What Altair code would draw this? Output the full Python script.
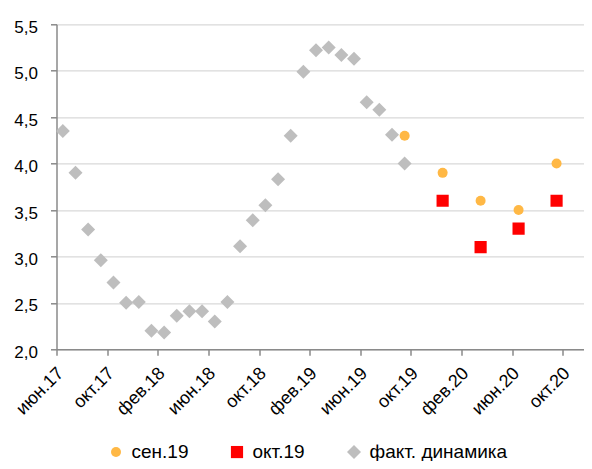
import json
import altair as alt
import pandas as pd

# ---- data ----
fact_start = "2017-06"
fact_values = [4.35, 3.90, 3.29, 2.96, 2.72, 2.50, 2.51, 2.20, 2.18, 2.36, 2.41, 2.41,
               2.30, 2.51, 3.11, 3.39, 3.55, 3.83, 4.30, 4.99, 5.22, 5.25, 5.17, 5.13,
               4.66, 4.58, 4.31, 4.00]

sep19_months = ["2019-09", "2019-12", "2020-03", "2020-06", "2020-09", "2020-12"]
sep19_values = [4.3, 3.9, 3.6, 3.5, 4.0, 4.0]

oct19_months = ["2019-12", "2020-03", "2020-06", "2020-09", "2020-12"]
oct19_values = [3.6, 3.1, 3.3, 3.6, 3.8]

series_names = ["сен.19", "окт.19", "факт. динамика"]
series_colors = ["#FFB845", "#FF0000", "#BEBEBE"]
series_shapes = ["circle", "square", "diamond"]
series_sizes = [100, 196, 150]

tick_labels = ["июн.17", "окт.17", "фев.18", "июн.18", "окт.18", "фев.19",
               "июн.19", "окт.19", "фев.20", "июн.20", "окт.20"]

# ---- build table ----
start = pd.Period(fact_start, freq="M")
fact_months = [str(p) for p in pd.period_range(start, periods=len(fact_values), freq="M")]


def month_pos(m):
    p = pd.Period(m, freq="M")
    return (p.year - start.year) * 12 + (p.month - start.month) + 0.5


rows = []
for m, v in zip(fact_months, fact_values):
    rows.append({"pos": month_pos(m), "value": v, "series": "факт. динамика", "o": 0})
for m, v in zip(sep19_months, sep19_values):
    rows.append({"pos": month_pos(m), "value": v, "series": "сен.19", "o": 1})
for m, v in zip(oct19_months, oct19_values):
    rows.append({"pos": month_pos(m), "value": v, "series": "окт.19", "o": 2})
df = pd.DataFrame(rows)

px_per_month = 12.66
pad_left, pad_top = 48.5, 16.3
plot_w = 576 - pad_left
plot_h = 325
pad_bottom = 453 - pad_top - plot_h

label_js = json.dumps(tick_labels, ensure_ascii=False)
FONT = "Liberation Sans"
AXIS_GREY = "#8A8A8A"

chart = alt.Chart(df).mark_point(filled=True, opacity=1, clip=True, strokeWidth=0).encode(
    x=alt.X("pos:Q",
            scale=alt.Scale(domain=[0, plot_w / px_per_month], nice=False, zero=False),
            axis=alt.Axis(values=list(range(0, 41, 4)), title=None, grid=False,
                          labelExpr=f"{label_js}[round(datum.value/4)]",
                          labelOverlap=False,
                          labelAngle=-45, labelAlign="right", labelBaseline="middle",
                          labelPadding=15, labelOffset=4,
                          tickSize=6, labelFontSize=18)),
    y=alt.Y("value:Q",
            scale=alt.Scale(domain=[2.0, 5.5], nice=False, zero=False),
            axis=alt.Axis(values=[2.0, 2.5, 3.0, 3.5, 4.0, 4.5, 5.0, 5.5], title=None,
                          grid=True, gridColor="#D9D9D9", gridWidth=1.2,
                          labelOverlap=False,
                          labelExpr="replace(format(datum.value, '.1f'), '.', ',')",
                          labelPadding=13, labelOffset=3, tickSize=6, labelFontSize=17)),
    color=alt.Color("series:N",
                    scale=alt.Scale(domain=series_names, range=series_colors),
                    legend=alt.Legend(title=None, orient="none", direction="horizontal",
                                      legendX=50, legendY=418, padding=0,
                                      labelFontSize=19, labelFont=FONT, labelColor="#000000",
                                      labelOffset=6, columnPadding=39, symbolSize=100,
                                      symbolStrokeWidth=0)),
    shape=alt.Shape("series:N",
                    scale=alt.Scale(domain=series_names, range=series_shapes)),
    size=alt.Size("series:N",
                  scale=alt.Scale(domain=series_names, range=series_sizes),
                  legend=None),
    order=alt.Order("o:Q"),
).properties(
    width=plot_w,
    height=plot_h,
    autosize=alt.AutoSizeParams(type="none"),
    padding={"left": pad_left, "top": pad_top, "right": 0, "bottom": pad_bottom},
).configure_view(
    strokeWidth=0
).configure_axis(
    domainColor=AXIS_GREY, domainWidth=1.5,
    tickColor=AXIS_GREY, tickWidth=1.5,
    labelFont=FONT, labelColor="#000000",
)

chart.save("out.html", embed_options={"renderer": "svg", "actions": False})
